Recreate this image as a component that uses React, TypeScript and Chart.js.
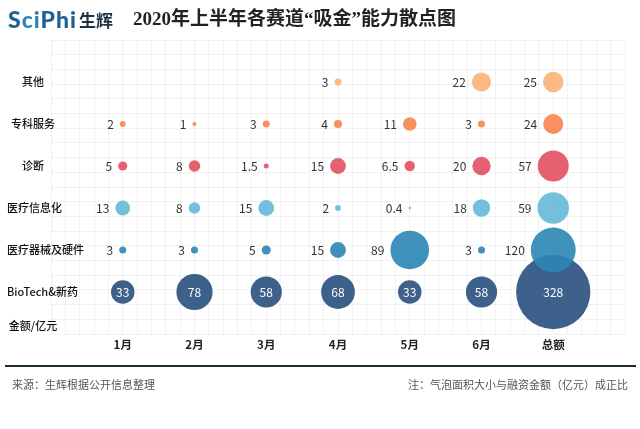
import React, { useEffect, useRef } from "react";
import { Chart, registerables } from "chart.js";
Chart.register(...registerables);

const months = ["1月", "2月", "3月", "4月", "5月", "6月", "总额"];
const rowLabels = ["其他", "专科服务", "诊断", "医疗信息化", "医疗器械及硬件", "BioTech&新药"];
const amountLabel = "金额/亿元";
const otherValues: (number | null)[] = [null, null, null, 3, null, 22, 25];
const specialtyValues = [2, 1, 3, 4, 11, 3, 24];
const diagnosisValues = [5, 8, 1.5, 15, 6.5, 20, 57];
const healthItValues = [13, 8, 15, 2, 0.4, 18, 59];
const deviceValues = [3, 3, 5, 15, 89, 3, 120];
const biotechValues = [33, 78, 58, 68, 33, 58, 328];
const seriesColors = [
  "rgba(250,178,118,0.9)",
  "rgba(247,133,76,0.9)",
  "rgba(226,80,98,0.9)",
  "rgba(100,185,216,0.9)",
  "rgba(44,134,180,0.9)",
  "rgba(40,80,126,0.9)",
];

const RADIUS_K = 2.05;
const FONT = '"Noto Sans CJK SC", "Noto Sans", sans-serif';

export default function App() {
  const canvasRef = useRef<HTMLCanvasElement | null>(null);

  useEffect(() => {
    const canvas = canvasRef.current;
    if (!canvas) return;
    const allSeries = [otherValues, specialtyValues, diagnosisValues, healthItValues, deviceValues, biotechValues];
    const datasets = allSeries.map((vals, si) => ({
      label: rowLabels[si],
      inside: si === allSeries.length - 1,
      data: vals
        .map((v, i) => (v == null ? null : { x: i + 1, y: allSeries.length - si, v }))
        .filter((p) => p !== null) as any[],
      backgroundColor: seriesColors[si],
      borderWidth: 0,
      radius: (c: any) => (c.raw ? RADIUS_K * Math.sqrt(c.raw.v) : 0),
    }));

    const labelPlugin = {
      id: "bubbleLabels",
      afterDatasetsDraw(chart: any) {
        const ctx = chart.ctx as CanvasRenderingContext2D;
        ctx.save();
        chart.data.datasets.forEach((ds: any, di: number) => {
          const meta = chart.getDatasetMeta(di);
          meta.data.forEach((el: any, j: number) => {
            const raw = ds.data[j];
            const r = el.options.radius;
            ctx.font = `12px ${FONT}`;
            ctx.textBaseline = "middle";
            if (ds.inside) {
              ctx.fillStyle = "#ffffff";
              ctx.textAlign = "center";
              ctx.fillText(String(raw.v), el.x, el.y);
            } else {
              ctx.fillStyle = "#333333";
              ctx.textAlign = "right";
              ctx.fillText(String(raw.v), el.x - r - 6, el.y);
            }
          });
        });
        const ys = chart.scales.y;
        const xs = chart.scales.x;
        ctx.font = `500 11px ${FONT}`;
        ctx.fillStyle = "#111";
        ctx.textAlign = "center";
        ctx.textBaseline = "middle";
        const n = rowLabels.length;
        const drawRow = (t: string, yv: number) => {
          const w = ctx.measureText(t).width;
          const cx = Math.max(33, 7 + w / 2);
          ctx.fillText(t, cx, ys.getPixelForValue(yv));
        };
        rowLabels.forEach((t, i) => drawRow(t, n - i));
        drawRow(amountLabel, 0.2);
        ctx.font = `bold 11.5px ${FONT}`;
        ctx.fillStyle = "#222";
        months.forEach((m, i) => {
          ctx.fillText(m, xs.getPixelForValue(i + 1), chart.chartArea.bottom + 11);
        });
        ctx.restore();
      },
    };

    const chart = new Chart(canvas, {
      type: "bubble",
      data: { datasets: datasets as any },
      options: {
        responsive: false,
        devicePixelRatio: 1,
        animation: false,
        layout: { autoPadding: false, padding: { left: 51, right: 15, top: 40, bottom: 95 } },
        plugins: { legend: { display: false }, tooltip: { enabled: false } },
        scales: {
          x: {
            type: "linear",
            min: 0,
            max: 8,
            ticks: { display: false, stepSize: 0.2 },
            grid: { color: "rgba(0,0,0,0.05)", drawTicks: false },
            border: { display: false },
          },
          y: {
            type: "linear",
            min: 0,
            max: 7,
            ticks: { display: false, stepSize: 0.35 },
            grid: { color: "rgba(0,0,0,0.05)", drawTicks: false },
            border: { display: false },
          },
        },
      } as any,
      plugins: [labelPlugin],
    });
    return () => chart.destroy();
  }, []);

  return (
    <div style={{ position: "fixed", left: 0, top: 0, width: 640, height: 429, background: "#fff", overflow: "hidden" }}>
      <canvas ref={canvasRef} width={640} height={429} style={{ position: "absolute", left: 0, top: 0 }} />
      <div style={{ position: "absolute", left: 8, top: 4, height: 30, display: "flex", alignItems: "center", whiteSpace: "nowrap" }}>
        <span style={{ fontFamily: "Lato, sans-serif", fontWeight: 900, fontSize: 23, color: "#1f6290", letterSpacing: 1 }}>
          S<span style={{ color: "#2a86ad" }}>ci</span>Phi
        </span>
        <span style={{ fontFamily: FONT, fontWeight: 700, fontSize: 17, color: "#1d3344", marginLeft: 2 }}>生辉</span>
      </div>
      <div style={{ position: "absolute", left: 133, top: 5, height: 28, lineHeight: "28px", fontFamily: '"Liberation Serif", "Noto Sans CJK SC", serif', fontWeight: 700, fontSize: 19, color: "#222", whiteSpace: "nowrap" }}>
        2020年上半年各赛道“吸金”能力散点图
      </div>
      <div style={{ position: "absolute", left: 5, top: 365, width: 631, height: 2, background: "#1c2c36" }} />
      <div style={{ position: "absolute", left: 12, top: 376, fontFamily: FONT, fontSize: 11, color: "#555", whiteSpace: "nowrap" }}>
        来源：生辉根据公开信息整理
      </div>
      <div style={{ position: "absolute", right: 12, top: 376, fontFamily: FONT, fontSize: 11, color: "#555", whiteSpace: "nowrap" }}>
        注：气泡面积大小与融资金额（亿元）成正比
      </div>
    </div>
  );
}
